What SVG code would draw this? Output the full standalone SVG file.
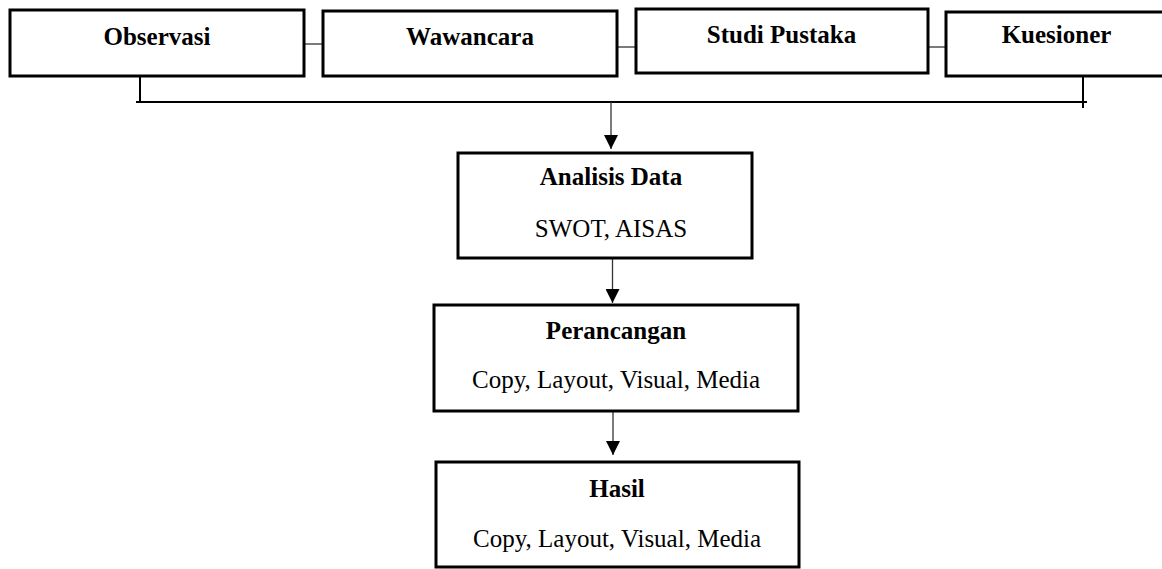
<svg xmlns="http://www.w3.org/2000/svg" width="1162" height="569" viewBox="0 0 1162 569">
<defs>
<style>
.box{fill:#fff;stroke:#000;stroke-width:3}
.t{font-family:"Liberation Serif","Times New Roman",serif;font-size:25px;fill:#000;text-anchor:middle}
.b{font-weight:bold;font-size:25px}
.ln{stroke:#000;stroke-width:2;fill:none}
.thin{stroke:#333;stroke-width:1.3;fill:none}
</style>
<marker id="ah" viewBox="0 0 14 14" markerWidth="14" markerHeight="14" refX="14" refY="7" orient="auto" markerUnits="userSpaceOnUse">
<path d="M0,0 L14,7 L0,14 z" fill="#000"/>
</marker>
</defs>
<rect width="1162" height="569" fill="#fff"/>
<g id="connectors">
<line class="thin" x1="304" y1="44" x2="322" y2="44"/>
<line class="thin" x1="617" y1="47" x2="635" y2="47"/>
<line class="thin" x1="928" y1="47" x2="945" y2="47"/>
<line class="ln" x1="140" y1="76" x2="140" y2="102"/>
<line class="ln" x1="136" y1="102" x2="1087" y2="102"/>
<line class="ln" x1="1083" y1="69" x2="1083" y2="108"/>
<line class="thin" x1="611" y1="102" x2="611" y2="149" marker-end="url(#ah)"/>
<line class="thin" x1="612.5" y1="258" x2="612.5" y2="303" marker-end="url(#ah)"/>
<line class="thin" x1="613" y1="411" x2="613" y2="455" marker-end="url(#ah)"/>
</g>
<g id="observasi">
<rect class="box" x="10" y="10" width="294" height="66"/>
<text class="t b" x="157" y="45">Observasi</text>
</g>
<g id="wawancara">
<rect class="box" x="323" y="11" width="294" height="65"/>
<text class="t b" x="470" y="45">Wawancara</text>
</g>
<g id="studi-pustaka">
<rect class="box" x="636" y="9" width="292" height="64"/>
<text class="t b" x="781.5" y="43">Studi Pustaka</text>
</g>
<g id="kuesioner">
<rect class="box" x="946" y="12" width="230" height="64"/>
<text class="t b" x="1056.5" y="43">Kuesioner</text>
</g>
<g id="analisis-data">
<rect class="box" x="458" y="153" width="294" height="105"/>
<text class="t b" x="611" y="185">Analisis Data</text>
<text class="t" x="611" y="237">SWOT, AISAS</text>
</g>
<g id="perancangan">
<rect class="box" x="434" y="305" width="364" height="106"/>
<text class="t b" x="616" y="339">Perancangan</text>
<text class="t" x="616" y="388">Copy, Layout, Visual, Media</text>
</g>
<g id="hasil">
<rect class="box" x="436" y="462" width="363" height="105"/>
<text class="t b" x="617" y="497">Hasil</text>
<text class="t" x="617" y="547">Copy, Layout, Visual, Media</text>
</g>
</svg>
